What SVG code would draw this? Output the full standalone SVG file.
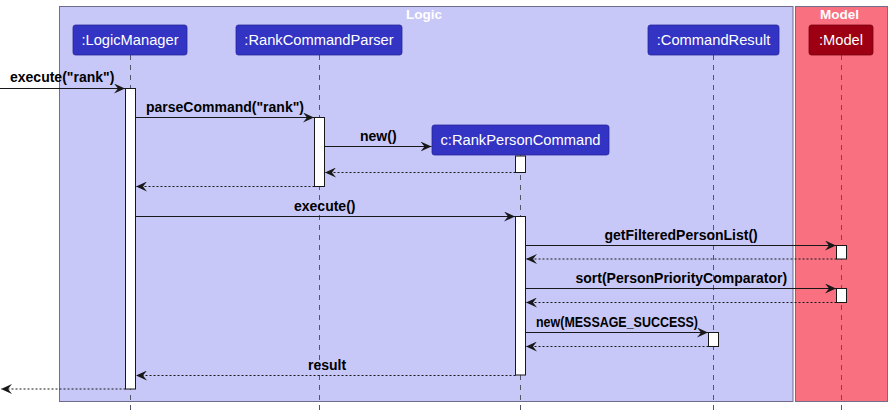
<svg xmlns="http://www.w3.org/2000/svg" width="892" height="413" viewBox="0 0 892 413">
<defs>
<style>
.box{stroke:#6e6e8a;stroke-width:1}
.title{font-family:"Liberation Sans",Arial,sans-serif;font-weight:bold;font-size:13.5px;fill:#ffffff;text-anchor:middle}
.part{fill:#3333C4;stroke:#27279a;stroke-width:0.8}
.ptext{font-family:"Liberation Sans",Arial,sans-serif;font-size:14.7px;fill:#ffffff;text-anchor:middle}
.life{stroke:#555566;stroke-width:1;stroke-dasharray:5,5;fill:none}
.act{fill:#ffffff;stroke:#181818;stroke-width:1}
.msg{stroke:#181818;stroke-width:1;fill:none;marker-end:url(#arr)}
.ret{stroke:#181818;stroke-width:1;fill:none;stroke-dasharray:2,2;marker-end:url(#arr)}
.lbl{font-family:"Liberation Sans",Arial,sans-serif;font-weight:bold;font-size:14px;fill:#000000}
</style>
<marker id="arr" viewBox="0 0 12 10" refX="11" refY="5" markerWidth="12" markerHeight="10" markerUnits="userSpaceOnUse" orient="auto">
<path d="M0,0 L11,5 L0,10 L4,5 Z" fill="#181818"/>
</marker>
</defs>
<rect width="892" height="413" fill="#ffffff"/>
<g id="logic-box">
<rect class="box" x="59.5" y="6.5" width="733.5" height="395" fill="#C8C8F8"/>
<text class="title" x="424" y="19">Logic</text>
</g>
<g id="model-box">
<rect class="box" x="795.5" y="6.5" width="92" height="395" fill="#F97181"/>
<text class="title" x="839.5" y="19">Model</text>
</g>
<g id="lifelines">
<line class="life" x1="130.5" y1="55" x2="130.5" y2="413"/>
<line class="life" x1="319.5" y1="55" x2="319.5" y2="413"/>
<line class="life" x1="520.5" y1="155" x2="520.5" y2="413"/>
<line class="life" x1="713.5" y1="55" x2="713.5" y2="413"/>
<line class="life" x1="841.5" y1="55" x2="841.5" y2="413"/>
</g>
<g id="LogicManager">
<rect class="part" x="73" y="25" width="114" height="30" rx="2.5"/>
<text class="ptext" x="130" y="45">:LogicManager</text>
<rect class="act" x="125.5" y="88.5" width="10" height="300.5"/>
</g>
<g id="RankCommandParser">
<rect class="part" x="236" y="25" width="166" height="30" rx="2.5"/>
<text class="ptext" x="319" y="45">:RankCommandParser</text>
<rect class="act" x="314.5" y="117.5" width="10" height="69"/>
</g>
<g id="RankPersonCommand">
<rect class="part" x="432" y="125" width="177" height="30" rx="2.5"/>
<text class="ptext" x="520.5" y="145">c:RankPersonCommand</text>
<rect class="act" x="515.5" y="156" width="10" height="16.5"/>
<rect class="act" x="515.5" y="216.5" width="10" height="158.5"/>
</g>
<g id="CommandResult">
<rect class="part" x="648" y="25" width="131" height="30" rx="2.5"/>
<text class="ptext" x="713.5" y="45">:CommandResult</text>
<rect class="act" x="708.5" y="332.5" width="10" height="14"/>
</g>
<g id="Model">
<rect x="809" y="25" width="64" height="30" rx="2.5" fill="#9D0012" stroke="#7a000e" stroke-width="0.8"/>
<text class="ptext" x="841" y="45">:Model</text>
<rect class="act" x="836.5" y="245.5" width="10" height="13.5"/>
<rect class="act" x="836.5" y="288.5" width="10" height="14"/>
</g>
<g id="connectors">
<line class="msg" x1="0" y1="88.5" x2="125" y2="88.5"/>
<text class="lbl" x="10" y="82">execute("rank")</text>
<line class="msg" x1="135.5" y1="117.5" x2="314" y2="117.5"/>
<text class="lbl" x="146" y="112">parseCommand("rank")</text>
<line class="msg" x1="324.5" y1="146.5" x2="431.5" y2="146.5"/>
<text class="lbl" x="360" y="141">new()</text>
<line class="ret" x1="515.5" y1="172.5" x2="325" y2="172.5"/>
<line class="ret" x1="314.5" y1="186.5" x2="136" y2="186.5"/>
<line class="msg" x1="135.5" y1="216.5" x2="515" y2="216.5"/>
<text class="lbl" x="294" y="211">execute()</text>
<line class="msg" x1="525.5" y1="245.5" x2="836" y2="245.5"/>
<text class="lbl" x="604.5" y="240">getFilteredPersonList()</text>
<line class="ret" x1="836.5" y1="259" x2="526" y2="259"/>
<line class="msg" x1="525.5" y1="288.5" x2="836" y2="288.5"/>
<text class="lbl" x="575.5" y="283">sort(PersonPriorityComparator)</text>
<line class="ret" x1="836.5" y1="302.5" x2="526" y2="302.5"/>
<line class="msg" x1="525.5" y1="332.5" x2="708" y2="332.5"/>
<text class="lbl" x="536" y="327" textLength="162" lengthAdjust="spacingAndGlyphs">new(MESSAGE_SUCCESS)</text>
<line class="ret" x1="708.5" y1="346.5" x2="526" y2="346.5"/>
<line class="ret" x1="515.5" y1="375.5" x2="136" y2="375.5"/>
<text class="lbl" x="308" y="370">result</text>
<line class="ret" x1="125.5" y1="389" x2="1" y2="389"/>
</g>
</svg>
